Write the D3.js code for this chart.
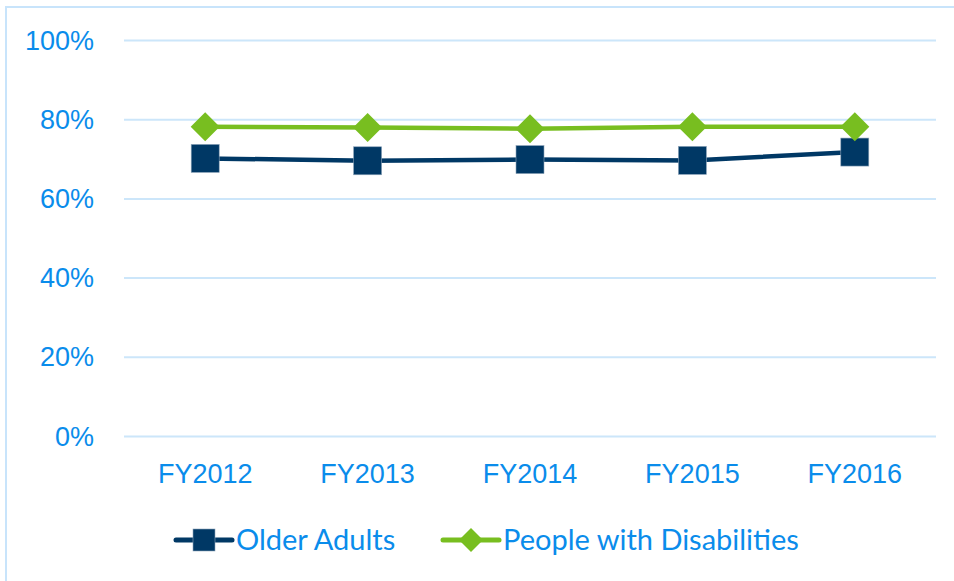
<!DOCTYPE html>
<html>
<head>
<meta charset="utf-8">
<script src="https://cdn.jsdelivr.net/npm/d3@7"></script>
<style>
  html, body { margin: 0; padding: 0; background: #fff; }
  svg { display: block; font-family: Lato, "Open Sans", sans-serif; }
</style>
</head>
<body>
<svg id="chart" width="954" height="581"></svg>
<script>
// данные графика
const years = ["FY2012", "FY2013", "FY2014", "FY2015", "FY2016"];
const olderAdults = [0.701, 0.695, 0.698, 0.696, 0.717];
const peopleDisabilities = [0.781, 0.779, 0.776, 0.781, 0.781];
const yTicks = [0, 0.2, 0.4, 0.6, 0.8, 1.0];

const series = [
  {name: "Older Adults", values: olderAdults, color: "#003865", marker: "square"},
  {name: "People with Disabilities", values: peopleDisabilities, color: "#78BE20", marker: "diamond"}
];

const textColor = "#0A8CEB";
const gridColor = "#CCE6FA";

const svg = d3.select("#chart");

// рамка вокруг графика (обрезана справа и снизу)
svg.append("rect")
  .attr("x", 6).attr("y", 7)
  .attr("width", 1000).attr("height", 1000)
  .attr("fill", "none")
  .attr("stroke", "#C8E4FB")
  .attr("stroke-width", 2);

const margin = {top: 40, left: 124, right: 18, bottom: 145};
const width = 954 - margin.left - margin.right;
const height = 581 - margin.top - margin.bottom;

const chart = svg.append("g").attr("transform", `translate(${margin.left},${margin.top})`);

const scaleX = d3.scaleBand().domain(years).range([0, width]);
const scaleY = d3.scaleLinear().domain([0, 1]).range([height, 0]);

// сетка + подписи оси Y
const yAxis = chart.append("g")
  .call(d3.axisLeft(scaleY).tickValues(yTicks).tickFormat(d3.format(".0%")).tickSize(-width).tickPadding(30));
yAxis.select(".domain").remove();
yAxis.selectAll(".tick line").attr("stroke", gridColor).attr("stroke-width", 2);
yAxis.selectAll(".tick text").attr("fill", textColor).style("font-size", "27px").attr("dy", "0.34em");

// подписи оси X
const xAxis = chart.append("g")
  .attr("transform", `translate(0,${height})`)
  .call(d3.axisBottom(scaleX).tickSize(0).tickPadding(28));
xAxis.select(".domain").remove();
xAxis.selectAll(".tick text").attr("fill", textColor).style("font-size", "27px");

function drawMarker(g, type, color, size) {
  if (type === "square") {
    g.append("rect")
      .attr("x", -size / 2).attr("y", -size / 2)
      .attr("width", size).attr("height", size)
      .attr("fill", color)
      .attr("stroke", "#8CA3B8").attr("stroke-width", 0.6);
  } else {
    const h = size / 2;
    g.append("path")
      .attr("d", `M0,${-h}L${h},0L0,${h}L${-h},0Z`)
      .attr("fill", color);
  }
}

// линии и маркеры
series.forEach(s => {
  const line = d3.line()
    .x((d, i) => scaleX(years[i]) + scaleX.bandwidth() / 2)
    .y(d => scaleY(d));
  chart.append("path")
    .datum(s.values)
    .attr("fill", "none")
    .attr("stroke", s.color)
    .attr("stroke-width", 4.5)
    .attr("d", line);
  s.values.forEach((v, i) => {
    const g = chart.append("g")
      .attr("transform", `translate(${scaleX(years[i]) + scaleX.bandwidth() / 2},${scaleY(v)})`);
    drawMarker(g, s.marker, s.color, s.marker === "square" ? 28 : 29);
  });
});

// легенда
const legendItems = [
  {x: 176, s: series[0]},
  {x: 443, s: series[1]}
];
legendItems.forEach(item => {
  const g = svg.append("g").attr("transform", `translate(${item.x},540)`);
  g.append("line")
    .attr("x1", 0).attr("x2", 56)
    .attr("stroke", item.s.color).attr("stroke-width", 5)
    .attr("stroke-linecap", "round");
  const m = g.append("g").attr("transform", "translate(28,0)");
  drawMarker(m, item.s.marker, item.s.color, item.s.marker === "square" ? 22 : 24);
  g.append("text")
    .attr("x", 60).attr("dy", "0.35em")
    .attr("fill", textColor)
    .style("font-size", "29px")
    .text(item.s.name);
});
</script>
</body>
</html>
